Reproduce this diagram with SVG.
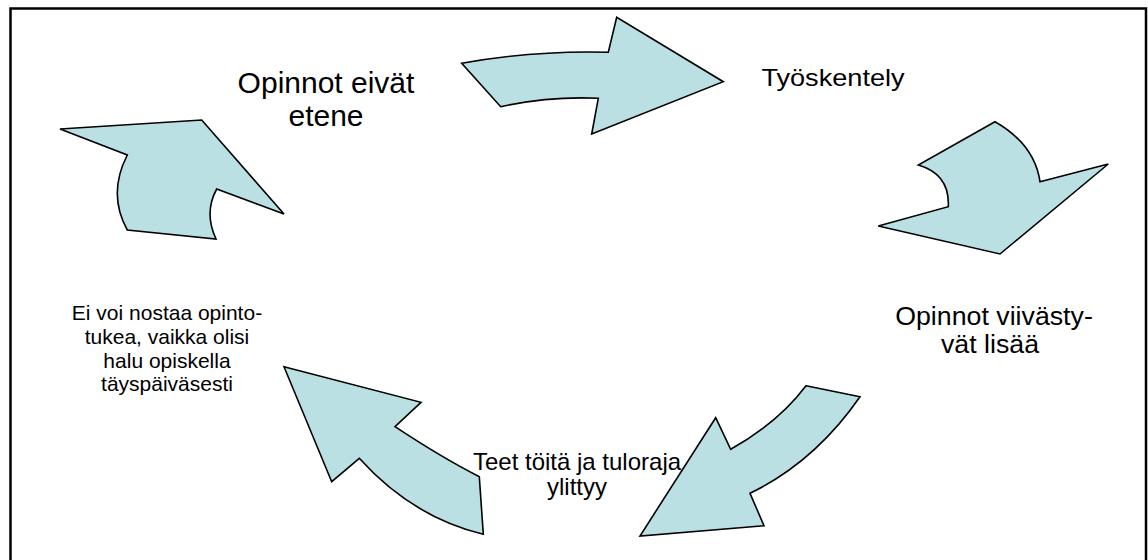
<svg xmlns="http://www.w3.org/2000/svg" width="1148" height="560" viewBox="0 0 1148 560">
<style>
.arrow{fill:#BAE0E3;stroke:#000;stroke-width:1.6;stroke-linejoin:miter}
.t{font-family:"Liberation Sans",Arial,sans-serif;fill:#000;text-anchor:middle}
</style>
<rect x="0" y="0" width="1148" height="560" fill="#fff"/>
<rect x="10.5" y="8.5" width="1135.5" height="600" fill="none" stroke="#000" stroke-width="2.5"/>
<g id="connectors">
<path id="arrow-top" class="arrow" d="M461.7,63.3 Q535,50.2 608.3,52.3 L616.7,17.3 L723.3,81.7 L591.7,134 L598.3,98.3 Q549.5,96.1 500.7,106.7 Z"/>
<path id="arrow-right" class="arrow" d="M995,121.7 Q1034.5,144.3 1040,181.7 L1108.3,164 L1000,254 L878.3,226 L948.3,206.7 Q950,174.2 918.3,165 Z"/>
<path id="arrow-bottom-right" class="arrow" d="M806,385.7 L860,396.7 Q815,461.7 750,493.3 L764,525.7 L640,536 L715.7,417.7 L730.7,449.3 Q778.3,422.5 806,385.7 Z"/>
<path id="arrow-bottom-left" class="arrow" d="M284,366.7 L421,402.3 L395,426.7 Q442.8,458.3 479.3,476.7 L483.3,534.3 Q412,517 359.3,458.3 L331.7,481.7 Z"/>
<path id="arrow-left" class="arrow" d="M60,129 L201.7,120 L284,214 L216.7,189 Q203.7,212.7 216,239 L127.3,230 Q107.3,194 127.3,155 Z"/>
</g>
<g id="node-opinnot-eivat-etene">
<text class="t" x="326" y="93" font-size="30">Opinnot eivät</text>
<text class="t" x="326" y="126" font-size="30">etene</text>
</g>
<g id="node-tyoskentely">
<text class="t" transform="translate(833,86) scale(1.18,1)" x="0" y="0" font-size="23">Työskentely</text>
</g>
<g id="node-opinnot-viivastyvat">
<text class="t" transform="translate(994,325) scale(1.07,1)" x="0" y="0" font-size="25">Opinnot viivästy-</text>
<text class="t" transform="translate(990,353) scale(1.07,1)" x="0" y="0" font-size="25">vät lisää</text>
</g>
<g id="node-teet-toita">
<text class="t" x="577" y="470" font-size="24">Teet töitä ja tuloraja</text>
<text class="t" x="577" y="495" font-size="24">ylittyy</text>
</g>
<g id="node-ei-voi-nostaa">
<text class="t" x="167" y="320" font-size="21">Ei voi nostaa opinto-</text>
<text class="t" x="167" y="344" font-size="21">tukea, vaikka olisi</text>
<text class="t" x="167" y="368" font-size="21">halu opiskella</text>
<text class="t" x="167" y="391" font-size="21">täyspäiväsesti</text>
</g>
</svg>
